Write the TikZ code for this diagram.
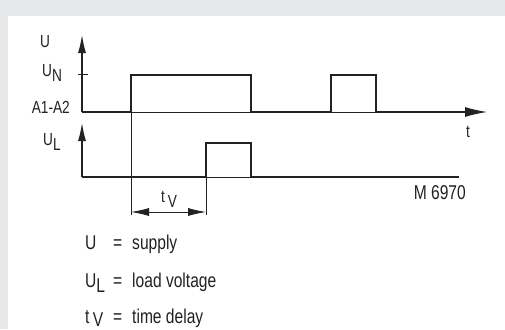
\documentclass[tikz,border=0pt]{standalone}
\usepackage{fontspec}
\setmainfont{Liberation Sans}[FakeStretch=0.78]
\usetikzlibrary{arrows.meta,positioning}
\definecolor{panelgray}{HTML}{E6E7E9}
\definecolor{ink}{HTML}{222222}
\newcommand{\low}[1]{\raisebox{-5pt}{#1}}

\begin{document}
\begin{tikzpicture}[x=1pt,y=-1pt,ink,
                    lbl/.style={font=\fontsize{17.5}{18}\selectfont,inner sep=0pt},
                    leg/.style={font=\fontsize{20}{22}\selectfont,inner sep=0pt,anchor=base west},
                    axis/.style={line width=1.2pt,-{Latex[length=18pt,width=8pt]}},
                    sig/.style={line width=2.6pt,line join=miter},
                    thinline/.style={line width=0.8pt},
                    dim/.style={line width=0.8pt,{Latex[length=18pt,width=8pt]}-{Latex[length=18pt,width=8pt]}}]

  % frame
  \fill[panelgray] (0,0) rectangle (505,329);
  \fill[white] (8,16) rectangle (505,329);
  \useasboundingbox (0,0) rectangle (505,329);

  % points
  \coordinate (o1) at (82,112);
  \coordinate (top1) at (82,35);
  \coordinate (tip1) at (487,112);
  \coordinate (o2) at (82,177);
  \coordinate (top2) at (82,123);
  \coordinate (end2) at (459,177);
  \coordinate (dl) at (131,212);
  \coordinate (dr) at (206,212);

  % axes
  \draw[axis] (o1) -- (top1);
  \draw[axis] (o2) -- (top2);
  \draw[thinline] (78,74) -- (88,74);
  \draw[line width=1pt,-{Latex[length=22pt,width=10pt]}] (o1) -- (tip1);
  \draw[thinline] (o2) -- (end2);

  % supply
  \draw[sig] (o1) -- (131,112) -- (131,75) -- (251,75) -- (251,112)
             -- (331,112) -- (331,75) -- (376,75) -- (376,112) -- (466,112);
  % load
  \draw[sig] (o2) -- (206,177) -- (206,143) -- (251,143) -- (251,177) -- (end2);

  % time delay
  \draw[thinline] (131,112) -- (131,215);
  \draw[thinline] (206,177) -- (206,215);
  \draw[dim] (dl) -- (dr);

  % labels
  \node[lbl,anchor=base] (U) at (45,47.5) {U};
  \node[lbl,anchor=base west] (UN) at (42,76.5) {U\low{N}};
  \node[lbl,anchor=base east] (A) at (70,113.5) {A1-A2};
  \node[lbl,anchor=base west] (UL) at (43,145) {U\low{L}};
  \node[lbl,anchor=base west] (t) at (466,137) {t};
  \node[lbl,anchor=base west] (tv) at (161,202) {t\,\low{V}};
  \node[leg,anchor=base east] (M) at (466,199.5) {M 6970};

  % legend
  \node[leg] (l1) at (85,249) {U};
  \node[leg] (e1) at (113,249) {=};
  \node[leg] (s1) at (132,249) {supply};
  \node[leg] (l2) at (85,287) {U\low{L}};
  \node[leg] (e2) at (113,287) {=};
  \node[leg] (s2) at (132,287) {load voltage};
  \node[leg] (l3) at (85,323) {t\,\raisebox{-3pt}{V}};
  \node[leg] (e3) at (113,323) {=};
  \node[leg] (s3) at (132,323) {time delay};

\end{tikzpicture}
\end{document}
